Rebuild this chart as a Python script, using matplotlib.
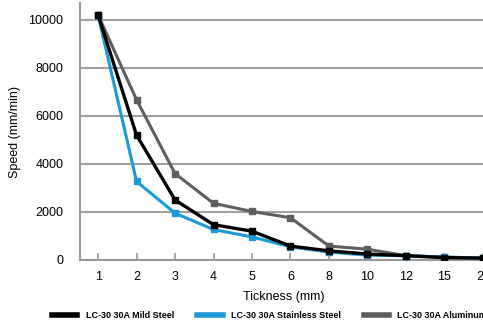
import matplotlib
matplotlib.use('Agg')
import matplotlib.pyplot as plt
import numpy as np

# thickness categories (mm)
thickness = ['1', '2', '3', '4', '5', '6', '8', '10', '12', '15', '20']
mild_steel = [10200, 5200, 2500, 1470, 1200, 580, 380, 250, 180, 100, 80]
stainless = [10200, 3270, 1950, 1270, 960, 550, 330, 200, 180, 120, 80]
aluminum = [10200, 6670, 3600, 2360, 2020, 1760, 580, 450, 180, 120, 80]
yticks = [0, 2000, 4000, 6000, 8000, 10000]

plt.rcParams['font.family'] = ['Liberation Sans Narrow', 'Liberation Sans', 'DejaVu Sans']

fig = plt.figure(figsize=(4.83, 3.25), dpi=100)
ax = fig.add_axes([80/483, 65/325, 1 - 80/483 + 0.01, 257/325])

x = np.arange(len(thickness))
ax.plot(x, aluminum, color='#5e5e5e', lw=2.2, marker='s', ms=4.5, zorder=3,
        label='LC-30 30A Aluminum')
ax.plot(x, stainless, color='#1a9ad6', lw=2.2, marker='s', ms=4.5, zorder=4,
        label='LC-30 30A Stainless Steel')
ax.plot(x, mild_steel, color='black', lw=2.4, marker='s', ms=4.5, zorder=5,
        label='LC-30 30A Mild Steel')

ax.set_xlim(-0.47, 10.13)
ax.set_ylim(0, 10700)
ax.set_xticks(x)
ax.set_xticklabels(thickness)
ax.set_yticks(yticks)
ax.yaxis.grid(True, color='#a0a0a0', lw=1.5)
ax.set_axisbelow(True)
for s in ['top', 'right']:
    ax.spines[s].set_visible(False)
for s in ['left', 'bottom']:
    ax.spines[s].set_color('#9a9a9a')
    ax.spines[s].set_linewidth(1.5)
ax.tick_params(axis='y', length=0, pad=12, labelsize=9)
ax.tick_params(axis='x', direction='in', length=5, width=1.2, color='#9a9a9a',
               pad=8, labelsize=9)
ax.set_ylabel('Speed (mm/min)', fontsize=9, labelpad=5)
ax.set_xlabel('Tickness (mm)', fontsize=9, labelpad=6)

handles, labels = ax.get_legend_handles_labels()
order = [2, 1, 0]
leg = fig.legend([handles[i] for i in order], [labels[i] for i in order],
                 loc='center left', bbox_to_anchor=(44/483, 9/325), ncol=3,
                 frameon=False, handlelength=2.8, columnspacing=2.6,
                 handletextpad=0.9, prop={'size': 6.5, 'weight': 'bold'})
for h in leg.legend_handles:
    h.set_marker('')
    h.set_linewidth(4)

fig.savefig('out.png', dpi=100)
